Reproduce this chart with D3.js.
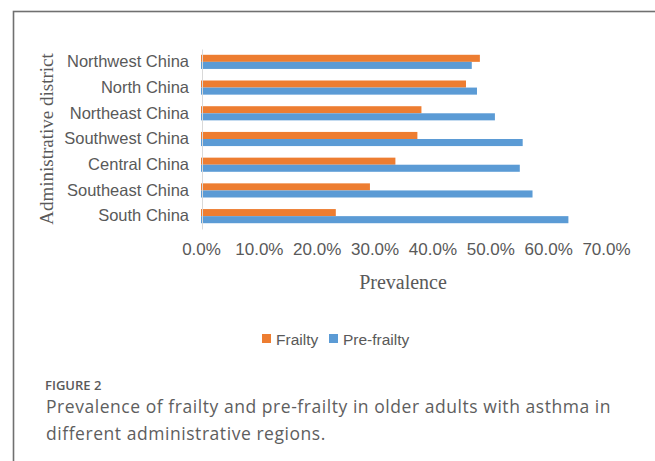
<!DOCTYPE html>
<html><head><meta charset="utf-8">
<script src="https://cdn.jsdelivr.net/npm/d3@7"></script>
<style>
html,body{margin:0;padding:0;background:#fff;}
svg{display:block;}
</style></head>
<body>
<svg id="chart" width="655" height="461"></svg>
<script>
const categories = ["Northwest China","North China","Northeast China","Southwest China","Central China","Southeast China","South China"];
const frailty    = [0.482,0.458,0.381,0.374,0.336,0.292,0.233];
const preFrailty = [0.468,0.477,0.508,0.556,0.551,0.573,0.635];
const seriesNames = ["Frailty","Pre-frailty"];
const seriesColors = ["#ED7D31","#5B9BD5"];
const xTicks = [0,0.1,0.2,0.3,0.4,0.5,0.6,0.7];

const svg = d3.select("#chart");
// frame
svg.append("rect").attr("x",13.5).attr("y",11.5).attr("width",700).attr("height",500)
  .attr("fill","none").attr("stroke","#707070").attr("stroke-width",1.6);

const x = d3.scaleLinear().domain([0,0.7]).range([201,606]);
const y = d3.scaleBand().domain(categories).range([49,229]).paddingInner(0.45).paddingOuter(0.225);
const sub = d3.scaleBand().domain(seriesNames).range([0,y.bandwidth()]);

const rows = categories.map((c,i)=>({c, vals:[frailty[i],preFrailty[i]]}));
const g = svg.append("g");
g.selectAll("g.row").data(rows).join("g").attr("class","row")
 .attr("transform",d=>`translate(0,${y(d.c)})`)
 .selectAll("rect").data(d=>d.vals.map((v,k)=>({v,k}))).join("rect")
 .attr("x",x(0)).attr("y",d=>sub(seriesNames[d.k]))
 .attr("width",d=>x(d.v)-x(0)).attr("height",sub.bandwidth())
 .attr("fill",d=>seriesColors[d.k]);

// y axis
const yAxis = svg.append("g").attr("transform",`translate(${x(0)+1},0)`)
  .call(d3.axisLeft(y).tickSize(0).tickPadding(13));
yAxis.select(".domain").attr("stroke","#d9d9d9");
yAxis.selectAll("text").attr("font-family","Liberation Sans, Arial, sans-serif").attr("font-size",16.5).attr("fill","#595959");

// x axis (labels only)
const xAxis = svg.append("g").attr("transform",`translate(0,237)`)
  .call(d3.axisBottom(x).tickValues(xTicks).tickSize(0).tickPadding(6).tickFormat(d3.format(".1%")));
xAxis.select(".domain").remove();
xAxis.selectAll("text").attr("font-family","Liberation Sans, Arial, sans-serif").attr("font-size",17).attr("fill","#595959");

// axis titles
svg.append("text").attr("x",403).attr("y",289).attr("text-anchor","middle")
  .attr("font-family","Liberation Serif, Times New Roman, serif").attr("font-size",20).attr("fill","#595959")
  .text("Prevalence");
svg.append("text").attr("transform","translate(53,139) rotate(-90)").attr("text-anchor","middle")
  .attr("font-family","Liberation Serif, Times New Roman, serif").attr("font-size",19).attr("fill","#595959")
  .text("Administrative district");

// legend
const legend = svg.append("g").attr("transform","translate(262,339)");
const legX = [0,67];
seriesNames.forEach((n,k)=>{
  const lg = legend.append("g").attr("transform",`translate(${legX[k]},0)`);
  lg.append("rect").attr("x",0).attr("y",-5).attr("width",9).attr("height",9).attr("fill",seriesColors[k]);
  lg.append("text").attr("x",14).attr("y",6).attr("font-family","Liberation Sans, Arial, sans-serif")
    .attr("font-size",15.5).attr("fill","#595959").text(n);
});

// caption
svg.append("text").attr("x",45).attr("y",390).attr("font-family","Open Sans, Noto Sans, sans-serif")
  .attr("font-size",13).attr("font-weight",600).attr("fill","#5a5a5a").text("FIGURE 2");
svg.append("text").attr("x",46).attr("y",413).attr("font-family","Open Sans, Noto Sans, sans-serif")
  .attr("font-size",17.5).attr("letter-spacing",0.55).attr("fill","#5e5e5e")
  .text("Prevalence of frailty and pre-frailty in older adults with asthma in");
svg.append("text").attr("x",46).attr("y",440).attr("font-family","Open Sans, Noto Sans, sans-serif")
  .attr("font-size",17.5).attr("letter-spacing",0.55).attr("fill","#5e5e5e")
  .text("different administrative regions.");
</script>
</body></html>
